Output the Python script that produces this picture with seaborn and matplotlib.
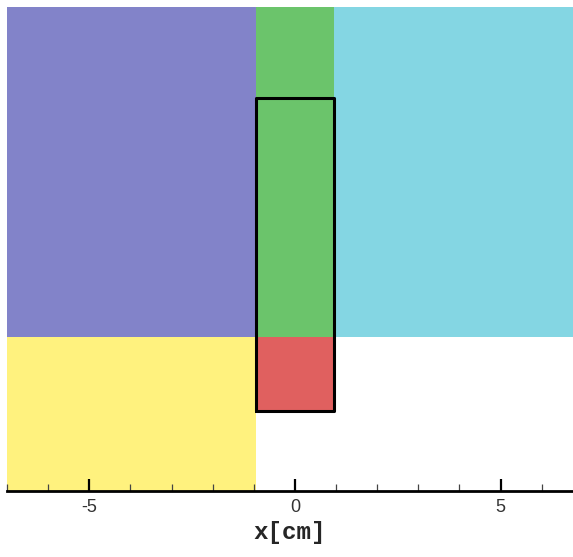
import numpy as np
import matplotlib
matplotlib.use("Agg")
import matplotlib.pyplot as plt
from matplotlib.colors import ListedColormap
from matplotlib.ticker import MultipleLocator
import seaborn as sns

# Material zones: x and y extents in cm
zone_names = ["left upper", "left lower", "core", "core base", "right upper"]
zone_x0 = [-7.0, -7.0, -0.95, -0.95, 0.95]
zone_x1 = [-0.95, -0.95, 0.95, 0.95, 6.8]
zone_y0 = [0.0, -3.8, 0.0, -1.8, 0.0]
zone_y1 = [8.1, 0.0, 8.1, 0.0, 8.1]
zone_colors = ["#8283c9", "#fff27e", "#6bc46b", "#e0605f", "#84d6e3"]

# Outlined box (cm)
box_x = [-0.95, 0.95, 0.95, -0.95, -0.95]
box_y = [-1.8, -1.8, 5.8, 5.8, -1.8]

x_limits = [-7.0, 6.76]
y_limits = [-3.74, 8.0]
major_ticks = [-5, 0, 5]

sns.set_style("white")
plt.rcParams["font.family"] = ["Liberation Sans", "DejaVu Sans"]

fig = plt.figure(figsize=(5.73, 5.57), dpi=100)
ax = fig.add_axes([7 / 573, 1 - 491 / 557, 1 - 7 / 573, 484 / 557])
ax.set_axisbelow(False)

# Computational mesh coloured by zone
h = 0.05
xe = np.arange(-7.2, 7.0 + h / 2, h)
ye = np.arange(-4.0, 8.2 + h / 2, h)
xc = 0.5 * (xe[:-1] + xe[1:])
yc = 0.5 * (ye[:-1] + ye[1:])
XC, YC = np.meshgrid(xc, yc)
zone_map = np.full(XC.shape, -1)
for i in range(len(zone_names)):
    inside = (XC >= zone_x0[i]) & (XC < zone_x1[i]) & (YC >= zone_y0[i]) & (YC < zone_y1[i])
    zone_map[inside] = i
zone_map = np.ma.masked_less(zone_map, 0)

ax.pcolormesh(xe, ye, zone_map, cmap=ListedColormap(zone_colors),
              vmin=-0.5, vmax=len(zone_names) - 0.5,
              edgecolors="face", linewidth=0, shading="flat", zorder=1)

sns.lineplot(x=box_x, y=box_y, sort=False, color="black", linewidth=2.2, ax=ax,
             estimator=None, zorder=3)

ax.set_xlim(x_limits)
ax.set_ylim(y_limits)

for side in ["left", "right", "top"]:
    ax.spines[side].set_visible(False)
ax.spines["bottom"].set_linewidth(2.0)
ax.spines["bottom"].set_color("black")
ax.spines["bottom"].set_zorder(4)

ax.set_xticks(major_ticks)
ax.set_xticklabels([str(t) for t in major_ticks])
ax.xaxis.set_minor_locator(MultipleLocator(1))
ax.tick_params(axis="x", which="major", direction="in", length=8.5, width=1.6,
               labelsize=13, colors="black", labelcolor="#333333", pad=6,
               bottom=True)
ax.tick_params(axis="x", which="minor", direction="in", length=5, width=0.9,
               colors="#444444", bottom=True)
ax.set_yticks([])
ax.set_xlabel("x[cm]", family=["Liberation Mono", "DejaVu Sans Mono"],
              fontweight="bold", fontsize=17.5, labelpad=3)

fig.savefig("out.png", dpi=100)
